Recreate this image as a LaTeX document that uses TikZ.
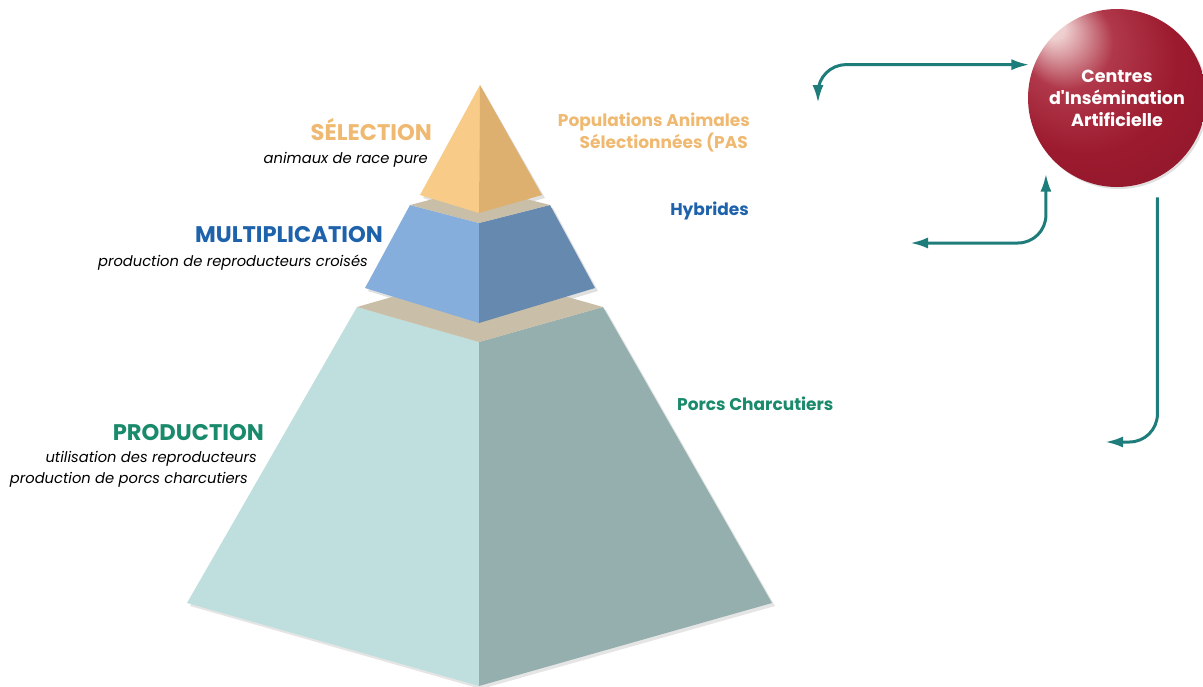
\documentclass[tikz,border=0pt]{standalone}
\usepackage{fontspec}
\setmainfont{Poppins}
\usetikzlibrary{arrows.meta,calc}
\definecolor{yelL}{HTML}{F8CB88}
\definecolor{yelR}{HTML}{DEB070}
\definecolor{tanC}{HTML}{C9BFA8}
\definecolor{bluL}{HTML}{86AEDD}
\definecolor{bluR}{HTML}{6689B0}
\definecolor{teaL}{HTML}{BEDFDD}
\definecolor{teaR}{HTML}{94AFAE}
\definecolor{selC}{HTML}{EFB971}
\definecolor{mulC}{HTML}{1E62AC}
\definecolor{proC}{HTML}{1A8A6C}
\definecolor{arrC}{HTML}{1E7C7A}
\definecolor{hlC}{HTML}{EFD0D0}
\definecolor{rd1}{HTML}{B0384A}
\definecolor{rd2}{HTML}{9C1A2E}
\definecolor{rd3}{HTML}{861429}
\pgfdeclareradialshading{redball}{\pgfpoint{-19bp}{21bp}}{color(0bp)=(hlC); color(3bp)=(hlC); color(13bp)=(rd1); color(26bp)=(rd2); color(50bp)=(rd3)}
\begin{document}
\begin{tikzpicture}[x=1pt,y=-1pt,
  title/.style={font=\bfseries\fontsize{22.6}{24}\selectfont, anchor=base east, inner sep=0},
  sub/.style={font=\itshape\fontsize{14.7}{16}\selectfont, anchor=base east, inner sep=0, text=black},
  lab/.style={font=\bfseries\fontsize{17}{19}\selectfont, anchor=base east, inner sep=0},
  arr/.style={draw=arrC, line width=3pt, rounded corners=28pt},
  tip/.tip={Latex[length=18pt,width=11pt]}]
\useasboundingbox (0,0) rectangle (1203,686);
% shadow
\fill[black,opacity=0.10] (360,310) -- (481,275) -- (606,310) -- (775,606) -- (481,689) -- (190,606) -- cycle;
\fill[black,opacity=0.12] (413,208) -- (481,190) -- (553,208) -- (598,291) -- (481,326) -- (368,291) -- cycle;
\fill[black,opacity=0.12] (482,88) -- (545,198) -- (481,216) -- (423,198) -- cycle;
% lower frustum
\fill[teaL] (357,307) -- (479,342) -- (479,686) -- (187,603) -- cycle;
\fill[teaR] (479,342) -- (603,307) -- (772,603) -- (479,686) -- cycle;
\fill[tanC] (357,307) -- (479,272) -- (603,307) -- (479,342) -- cycle;
% middle frustum
\fill[bluL] (410,205) -- (479,223) -- (479,323) -- (365,288) -- cycle;
\fill[bluR] (479,223) -- (550,205) -- (595,288) -- (479,323) -- cycle;
\fill[tanC] (410,205) -- (479,187) -- (550,205) -- (479,223) -- cycle;
% top pyramid
\fill[yelL] (480,85) -- (420,195) -- (479,213) -- cycle;
\fill[yelR] (480,85) -- (479,213) -- (542,195) -- cycle;
% left texts
\node[title, text=selC] (sel) at (432,140) {SÉLECTION};
\node[sub] (selsub) at (428,163) {animaux de race pure};
\node[title, text=mulC] (mul) at (383,242) {MULTIPLICATION};
\node[sub] (mulsub) at (368,266) {production de reproducteurs croisés};
\node[title, text=proC] (prod) at (264,440) {PRODUCTION};
\node[sub] (prodsubA) at (257,462) {utilisation des reproducteurs};
\node[sub] (prodsubB) at (248,483) {production de porcs charcutiers};
% right labels
\node[lab, text=selC] (lpasA) at (750,126) {Populations Animales};
\node[lab, text=selC] (lpasB) at (748,148) {Sélectionnées (PAS};
\node[lab, text=mulC] (lhyb) at (749,215) {Hybrides};
\node[lab, text=proC, anchor=base west] (lporcs) at (677,410) {Porcs Charcutiers};
% circle
\fill[black,opacity=0.12] (1119,100) circle[radius=89];
\node[circle, minimum size=178pt, inner sep=0, outer sep=0, shading=redball,
      text=white, align=center, font=\bfseries\fontsize{17.5}{22}\selectfont] (cia) at (1117,98)
      {Centres\\d\textquotesingle Insémination\\Artificielle};
% connectors
\coordinate (pas) at (818,103);
\coordinate (hyb) at (910,243);
\coordinate (porcs) at (1105,442);
\draw[arr, tip-tip, shorten >=5pt] (pas) |- (cia.158);
\draw[arr, tip-tip, shorten >=22pt] (hyb) -| (cia.217);
\draw[arr, -tip, shorten <=20pt] (cia.297) |- (porcs);
\end{tikzpicture}
\end{document}
